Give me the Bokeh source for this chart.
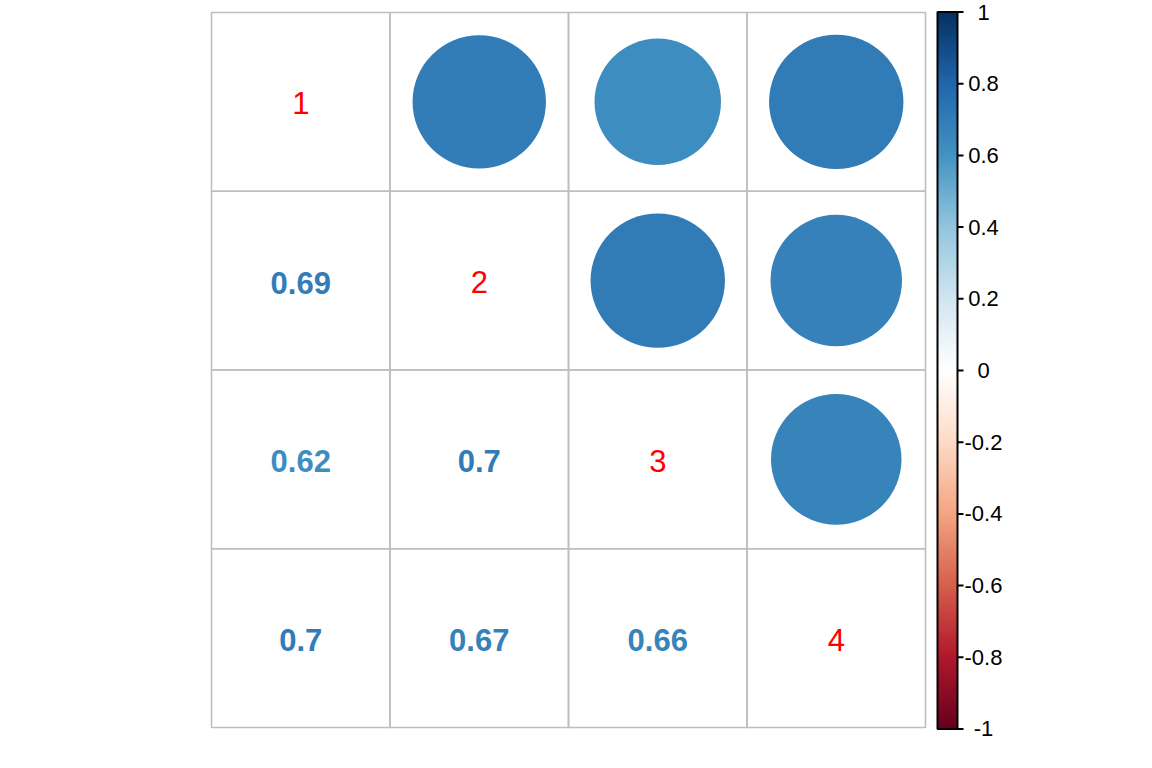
import numpy as np
from bokeh.plotting import figure
from bokeh.models import ColumnDataSource, LinearColorMapper, Range1d
from bokeh.layouts import row
from bokeh.transform import transform
from bokeh.core.properties import value
from bokeh.embed import file_html
from bokeh.resources import INLINE

# ---- data ----
variables = ["1", "2", "3", "4"]
corr = [
    [1.00, 0.69, 0.62, 0.70],
    [0.69, 1.00, 0.70, 0.67],
    [0.62, 0.70, 1.00, 0.66],
    [0.70, 0.67, 0.66, 1.00],
]
cb_ticks = [-1.0, -0.8, -0.6, -0.4, -0.2, 0.0, 0.2, 0.4, 0.6, 0.8, 1.0]
cb_labels = ["-1", "-0.8", "-0.6", "-0.4", "-0.2", "0", "0.2", "0.4", "0.6", "0.8", "1"]

# ---- palette (corrplot RdBu, 200 colours) ----
anchors = ["#67001F", "#B2182B", "#D6604D", "#F4A582", "#FDDBC7", "#FFFFFF",
           "#D1E5F0", "#92C5DE", "#4393C3", "#2166AC", "#053061"]


def ramp(cols, n):
    rgb = np.array([[int(c[i:i + 2], 16) for i in (1, 3, 5)] for c in cols], float)
    pos = np.linspace(0, 1, len(cols))
    t = np.linspace(0, 1, n)
    out = []
    for tt in t:
        r = np.interp(tt, pos, rgb[:, 0]); g = np.interp(tt, pos, rgb[:, 1]); b = np.interp(tt, pos, rgb[:, 2])
        out.append("#%02X%02X%02X" % (int(round(r)), int(round(g)), int(round(b))))
    return out


palette = ramp(anchors, 200)
mapper = LinearColorMapper(palette=palette, low=-1, high=1)

n = len(variables)
FONT = value("Liberation Sans")

# ---- sources ----
cells_x, cells_y = [], []
circ = dict(x=[], y=[], r=[], rad=[])
txt = dict(x=[], y=[], r=[], t=[])
diag = dict(x=[], y=[], t=[])
for i in range(n):
    for j in range(n):
        x = j + 1
        y = n - i
        cells_x.append(x); cells_y.append(y)
        v = corr[i][j]
        if i == j:
            diag["x"].append(x); diag["y"].append(y); diag["t"].append(variables[i])
        elif j > i:
            circ["x"].append(x); circ["y"].append(y); circ["r"].append(v)
            circ["rad"].append(0.45 * np.sqrt(abs(v)))
        else:
            txt["x"].append(x); txt["y"].append(y); txt["r"].append(v)
            txt["t"].append(("%.2f" % v).rstrip("0").rstrip("."))

# ---- main figure (frame = whole area; cells span x 211..925, y 12..727 px) ----
p = figure(title=None, output_backend="svg", toolbar_location=None,
           x_range=Range1d(-0.6821, 4.528), y_range=Range1d(0.2706, 4.5671),
           frame_width=930, frame_height=768,
           min_border_left=0, min_border_right=0, min_border_top=0, min_border_bottom=0,
           x_axis_location=None, y_axis_location=None)
p.grid.visible = False
p.outline_line_color = None
p.background_fill_color = "white"
p.border_fill_color = "white"

p.rect(x=cells_x, y=cells_y, width=1, height=1, fill_color=None,
       line_color="#BEBEBE", line_width=1.6)

p.circle(x="x", y="y", radius="rad", source=ColumnDataSource(circ),
         fill_color=transform("r", mapper), line_color=None)

p.text(x="x", y="y", text="t", source=ColumnDataSource(txt),
       text_color=transform("r", mapper), text_font=FONT, text_font_size="31px",
       text_font_style="bold", text_align="center", text_baseline="middle", y_offset=2)

p.text(x="x", y="y", text="t", source=ColumnDataSource(diag),
       text_color="#FF0000", text_font=FONT, text_font_size="31px",
       text_align="center", text_baseline="middle", y_offset=1.5)

# ---- colour bar figure ----
# frame covers the full height; y=1 sits at 11.5 px, y=-1 at 728.5 px
cb = figure(title=None, output_backend="svg", toolbar_location=None,
            x_range=Range1d(930, 1152), y_range=Range1d(-1.1102, 1.0321),
            frame_width=222, frame_height=768,
            min_border_left=0, min_border_right=0, min_border_top=0, min_border_bottom=0,
            x_axis_location=None, y_axis_location=None)
cb.grid.visible = False
cb.outline_line_color = None

grad = np.linspace(-1, 1, len(palette)).reshape(-1, 1)
cb.image(image=[grad], x=937, y=-1, dw=20, dh=2, color_mapper=mapper)
cb.rect(x=947, y=0, width=20, height=2, fill_color=None, line_color="black", line_width=2)
cb.segment(x0=957, x1=963, y0=cb_ticks, y1=cb_ticks, line_color="black", line_width=2)
cb.text(x=983, y=cb_ticks, text=cb_labels, text_color="black", text_font=FONT,
        text_font_size="22px", text_align="center", text_baseline="middle")

layout = row(p, cb)
open("out.html", "w").write(file_html(layout, INLINE))
